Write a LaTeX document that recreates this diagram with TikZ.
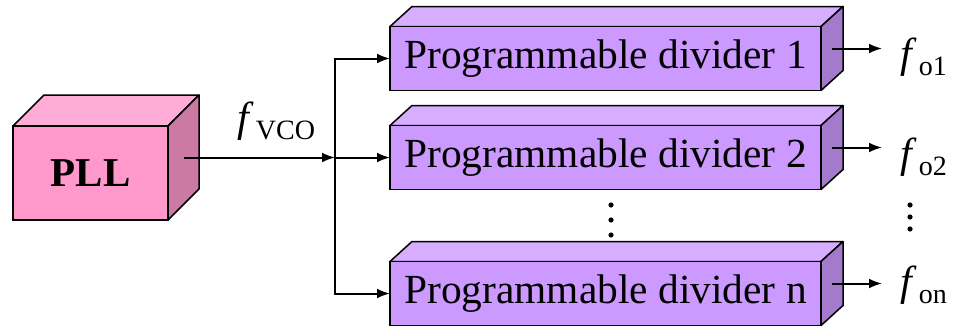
\documentclass[tikz,border=0pt]{standalone}
\usepackage{fontspec}
\setmainfont{Liberation Serif}
\usepackage{tikz}
\usetikzlibrary{arrows.meta,calc,positioning}

\definecolor{pllfront}{HTML}{FF99CC}
\definecolor{plltop}{HTML}{FFADD6}
\definecolor{pllside}{HTML}{CC7AA3}
\definecolor{divfront}{HTML}{CC99FF}
\definecolor{divtop}{HTML}{D6ADFF}
\definecolor{divside}{HTML}{A37ACC}

% italic f with an upright subscript
\newcommand{\freq}[1]{\textit{f}\kern1pt\raisebox{-4pt}{\fontsize{14}{15}\selectfont #1}}

\tikzset{
	% front face is the node, top and side faces are added after it
	box/.style n args={5}{
		draw, fill=#1, line width=.75pt, inner sep=0pt, outer sep=0pt,
		prefix after command={\pgfextra{\let\fixname\tikzlastnode}},
		append after command={\pgfextra{
			\draw[line width=.75pt, line join=round, fill=#2]
				(\fixname.north west) -- ++(#4,#5) -- ($(\fixname.north east)+(#4,#5)$) -- (\fixname.north east) -- cycle;
			\draw[line width=.75pt, line join=round, fill=#3]
				(\fixname.north east) -- ++(#4,#5) -- ($(\fixname.south east)+(#4,#5)$) -- (\fixname.south east) -- cycle;
			\coordinate (\fixname_side) at ($(\fixname.east)+(#4/2,#5/2)$);
		}}},
	pll/.style={box={pllfront}{plltop}{pllside}{31}{-31},
		minimum width=77.5pt, minimum height=47pt,
		font=\fontsize{20.5}{24}\selectfont\bfseries},
	divider/.style={box={divfront}{divtop}{divside}{22}{-20},
		minimum width=215.5pt, minimum height=32pt,
		font=\fontsize{20.7}{24}\selectfont},
	wire/.style={line width=1pt, -{Latex[length=6.5pt,width=5pt]}},
	freq label/.style={anchor=base west, inner sep=0pt, font=\fontsize{21}{24}\selectfont},
}

\begin{document}
\begin{tikzpicture}[x=.5pt, y=-.5pt]
	\useasboundingbox (0,0) rectangle (954,327);

	\node[pll] (PLL) at (90.5,173) {PLL};
	\node[divider] (D1) at (605.5,58.5) {Programmable divider 1};
	\node[divider, below=17.5pt of D1] (D2) {Programmable divider 2};
	\node[divider, below=36pt of D2] (Dn) {Programmable divider n};

	% fan-out of the vco output
	\coordinate (split) at ($(PLL_side)+(151.5,0)$);
	\draw[wire] (PLL_side) -- (split);
	\draw[wire] (split) |- (D1.west);
	\draw[wire] (split) -- (D2.west);
	\draw[wire] (split) |- (Dn.west);
	\node[freq label] (fvco) at ($(split)+(-98,-26)$) {\freq{VCO}};

	% divider outputs
	\foreach \blk/\lbl/\dy in {D1/o1/19, D2/o2/20, Dn/on/12} {
		\draw[wire] (\blk_side) -- ++(50,0) coordinate (\blk_out);
		\node[freq label] (f\lbl) at ($(\blk_out)+(18,\dy)$) {\freq{\lbl}};
	}

	% vertical ellipses
	\foreach \k in {0,1,2} {
		\fill ($(D2.south)+(5.5,15.5+15*\k)$) circle (1.3pt);
		\fill ($(D2_out)+(28,57.5+12*\k)$) circle (1.3pt);
	}
\end{tikzpicture}
\end{document}
